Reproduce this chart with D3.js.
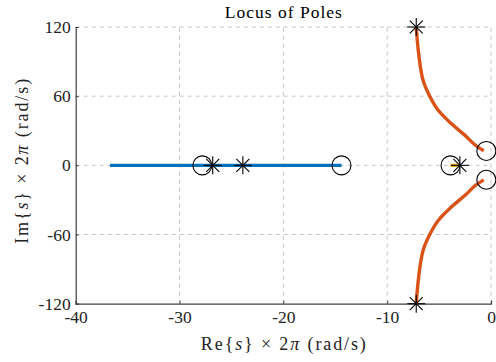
<!DOCTYPE html>
<html><head><meta charset="utf-8">
<script src="https://cdn.jsdelivr.net/npm/d3@7"></script>
<style>body{margin:0;background:#fff}svg{display:block}</style>
</head><body>
<script>
// Data
const xTicks = [-40, -30, -20, -10, 0];
const yTicks = [-120, -60, 0, 60, 120];
const branchBlue = [[-36.7, 0], [-14.4, 0]];
const branchOrangeTop = [[-7.2,120],[-6.97,97],[-6.55,74],[-5.9,60],[-5.1,48],[-3.8,36],[-2.5,26],[-1.5,17.4],[-0.7,12.6]];
const branchOrangeBot = branchOrangeTop.map(d => [d[0], -d[1]]);
const branchYellow = [[-3.9, 0], [-3.0, 0]];
const poles = [[-26.8,0],[-23.9,0],[-3.0,0],[-7.2,120],[-7.2,-120]];
const zeros = [[-27.8,0],[-14.4,0],[-3.9,0],[-0.45,12.5],[-0.45,-12.5]];

const W = 496, H = 362;
const m = {l: 75.7, r: 5, t: 27, b: 58.3};
const svg = d3.select("body").append("svg").attr("width", W).attr("height", H);
const x = d3.scaleLinear().domain([-40, 0]).range([m.l, W - m.r]);
const y = d3.scaleLinear().domain([-120, 120]).range([H - m.b, m.t]);
const font = "'Liberation Serif', 'DejaVu Serif', serif";

// grid
const g = svg.append("g");
xTicks.filter(t => t !== -40).forEach(t => {
  g.append("line").attr("x1", x(t)).attr("x2", x(t)).attr("y1", y(-120)).attr("y2", y(120))
   .attr("stroke", "#c6c6c6").attr("stroke-dasharray", "4,4").attr("stroke-width", 1);
});
yTicks.filter(t => t !== -120).forEach(t => {
  g.append("line").attr("x1", x(-40)).attr("x2", x(0)).attr("y1", y(t)).attr("y2", y(t))
   .attr("stroke", "#c6c6c6").attr("stroke-dasharray", "4,4").attr("stroke-width", 1);
});

// axes
const xa = svg.append("g").attr("transform", `translate(0,${y(-120)})`)
  .call(d3.axisBottom(x).tickValues(xTicks).tickSize(-3).tickPadding(7).tickFormat(d => String(d).replace("−","-")));
const ya = svg.append("g").attr("transform", `translate(${x(-40)},0)`)
  .call(d3.axisLeft(y).tickValues(yTicks).tickSize(-3).tickPadding(5).tickFormat(d => String(d).replace("−","-")));
[xa, ya].forEach(a => {
  a.select(".domain").attr("stroke", "#404040").attr("stroke-width", 1.2);
  a.selectAll(".tick line").attr("stroke", "#404040");
  a.selectAll("text").attr("font-family", font).attr("font-size", 17.5).attr("fill", "#222");
});

// lines
const line = d3.line().x(d => x(d[0])).y(d => y(d[1]));
const curve = d3.line().x(d => x(d[0])).y(d => y(d[1])).curve(d3.curveCatmullRom);
svg.append("path").attr("d", line(branchBlue)).attr("stroke", "#0072BD").attr("stroke-width", 3.4).attr("fill", "none");
svg.append("path").attr("d", curve(branchOrangeTop)).attr("stroke", "#D95319").attr("stroke-width", 3.4).attr("fill", "none");
svg.append("path").attr("d", curve(branchOrangeBot)).attr("stroke", "#D95319").attr("stroke-width", 3.4).attr("fill", "none");
svg.append("path").attr("d", line(branchYellow)).attr("stroke", "#EDB120").attr("stroke-width", 3.4).attr("fill", "none");

// zeros
svg.selectAll(".z").data(zeros).enter().append("circle")
  .attr("cx", d => x(d[0])).attr("cy", d => y(d[1])).attr("r", 9.5)
  .attr("fill", "none").attr("stroke", "#000").attr("stroke-width", 1.1);
// poles
const pg = svg.selectAll(".p").data(poles).enter().append("g")
  .attr("transform", d => `translate(${x(d[0])},${y(d[1])})`);
const r = 9;
[[-r,0,r,0],[0,-r,0,r],[-r*0.72,-r*0.72,r*0.72,r*0.72],[-r*0.72,r*0.72,r*0.72,-r*0.72]].forEach(s => {
  pg.append("line").attr("x1", s[0]).attr("y1", s[1]).attr("x2", s[2]).attr("y2", s[3])
    .attr("stroke", "#000").attr("stroke-width", 1.1);
});

// title and labels
svg.append("text").attr("x", (x(-40) + x(0)) / 2).attr("y", 17.5).attr("text-anchor", "middle")
  .attr("font-family", font).attr("font-size", 17.5).attr("fill", "#000")
  .attr("textLength", 117).attr("lengthAdjust", "spacing").text("Locus of Poles");
function label(sel, name) {
  sel.append("tspan").text(name + "{");
  sel.append("tspan").attr("font-style", "italic").text("s");
  sel.append("tspan").text("}  × 2");
  sel.append("tspan").attr("font-style", "italic").text("π");
  sel.append("tspan").text(" (rad/s)");
}
const xl = svg.append("text").attr("x", (x(-40) + x(0)) / 2).attr("y", 349.5).attr("text-anchor", "middle")
  .attr("font-family", font).attr("font-size", 18).attr("fill", "#222")
  .attr("textLength", 165).attr("lengthAdjust", "spacing");
label(xl, "Re");
const yl = svg.append("text").attr("transform", `translate(28,${y(0) - 4}) rotate(-90)`).attr("text-anchor", "middle")
  .attr("font-family", font).attr("font-size", 18).attr("fill", "#222")
  .attr("textLength", 165).attr("lengthAdjust", "spacing");
label(yl, "Im");
</script>
</body></html>
